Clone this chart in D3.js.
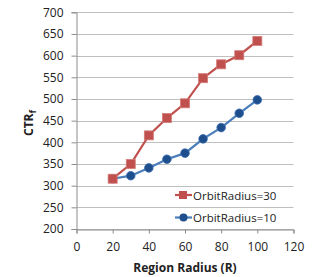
<!DOCTYPE html>
<html>
  <head>
    <meta charset="utf-8">
    <script type="text/javascript" src="https://d3js.org/d3.v7.min.js"></script>
    <style type="text/css">
      body { margin: 0; background: white; }
      text { font-family: "Open Sans", "Liberation Sans", sans-serif; fill: #222; }
    </style>
  </head>
  <body>
    <script type="text/javascript">
    // chart values
    var radius = [20, 30, 40, 50, 60, 70, 80, 90, 100];
    var orbit30 = [316, 350, 416, 456, 490, 548, 580, 601, 634];
    var orbit10 = [316, 323, 341, 361, 375, 408, 434, 467, 498];
    var xTicks = [0, 20, 40, 60, 80, 100, 120];
    var yTicks = [200, 250, 300, 350, 400, 450, 500, 550, 600, 650, 700];
    var seriesNames = ["OrbitRadius=30", "OrbitRadius=10"];

    var width = 332, height = 277;
    var plotLeft = 76.5, plotRight = 293.5, plotTop = 12.3, plotBottom = 229;

    var svg = d3.select("body")
                .append("svg")
                .attr("width", width)
                .attr("height", height);

    var xScale = d3.scaleLinear().domain([0, 120]).range([plotLeft, plotRight]);
    var yScale = d3.scaleLinear().domain([200, 700]).range([plotBottom, plotTop]);

    // gridlines
    svg.append("g")
       .selectAll("line")
       .data(yTicks)
       .enter()
       .append("line")
       .attr("x1", plotLeft)
       .attr("x2", plotRight)
       .attr("y1", function(d){ return Math.round(yScale(d)) + 0.5; })
       .attr("y2", function(d){ return Math.round(yScale(d)) + 0.5; })
       .attr("stroke", "#bfbfbf");

    // y axis
    var yAxis = svg.append("g")
       .attr("transform", "translate(" + plotLeft + ",0)")
       .call(d3.axisLeft(yScale).tickValues(yTicks).tickSize(5).tickPadding(8));
    yAxis.selectAll("text").attr("font-size", "12px").attr("fill", "#222");

    // x axis
    var xAxis = svg.append("g")
       .attr("transform", "translate(0," + (Math.round(plotBottom) + 0.5) + ")")
       .call(d3.axisBottom(xScale).tickValues(xTicks).tickSize(4).tickPadding(9));
    xAxis.selectAll("text").attr("font-size", "12px").attr("fill", "#222");

    svg.selectAll(".domain, .tick line").attr("stroke", "#8c8c8c");
    svg.selectAll("g.tick text").attr("font-family", "'Open Sans', sans-serif");

    // axis titles
    svg.append("text")
       .attr("x", (plotLeft + plotRight) / 2)
       .attr("y", 272)
       .attr("text-anchor", "middle")
       .attr("font-size", "12px")
       .attr("font-weight", "bold")
       .text("Region Radius (R)");

    var yTitle = svg.append("text")
       .attr("transform", "translate(33,123) rotate(-90)")
       .attr("text-anchor", "middle")
       .attr("font-size", "12px")
       .attr("font-weight", "bold");
    yTitle.append("tspan").text("CTR");
    yTitle.append("tspan").attr("font-size", "9px").attr("dy", "3").text("f");

    var line = d3.line()
                 .x(function(d, i){ return xScale(radius[i]); })
                 .y(function(d){ return yScale(d); });

    // blue series
    svg.append("path")
       .datum(orbit10)
       .attr("d", line)
       .attr("fill", "none")
       .attr("stroke", "#4a7ebb")
       .attr("stroke-width", 2.2);
    svg.selectAll("circle.s10")
       .data(orbit10)
       .enter()
       .append("circle")
       .attr("class", "s10")
       .attr("cx", function(d, i){ return xScale(radius[i]); })
       .attr("cy", function(d){ return yScale(d); })
       .attr("r", 4.3)
       .attr("fill", "#1f4e8c")
       .attr("stroke", "#3a6cb0")
       .attr("stroke-width", 0.8);

    // red series
    svg.append("path")
       .datum(orbit30)
       .attr("d", line)
       .attr("fill", "none")
       .attr("stroke", "#c0504d")
       .attr("stroke-width", 2.2);
    svg.selectAll("rect.s30")
       .data(orbit30)
       .enter()
       .append("rect")
       .attr("class", "s30")
       .attr("x", function(d, i){ return xScale(radius[i]) - 4.5; })
       .attr("y", function(d){ return yScale(d) - 4.5; })
       .attr("width", 9)
       .attr("height", 9)
       .attr("fill", "#c0504d")
       .attr("stroke", "#d47b78")
       .attr("stroke-width", 0.8);

    // legend
    var legend = svg.append("g");
    var legY = [195, 217.5];
    legY.forEach(function(y, i){
      legend.append("line")
            .attr("x1", 175).attr("x2", 192)
            .attr("y1", y).attr("y2", y)
            .attr("stroke", i == 0 ? "#c0504d" : "#4a7ebb")
            .attr("stroke-width", 2.2);
      if (i == 0) {
        legend.append("rect")
              .attr("x", 179).attr("y", y - 4)
              .attr("width", 8).attr("height", 8)
              .attr("fill", "#c0504d");
      } else {
        legend.append("circle")
              .attr("cx", 183.5).attr("cy", y)
              .attr("r", 4)
              .attr("fill", "#1f4e8c");
      }
      legend.append("text")
            .attr("x", 193)
            .attr("y", y + 4.5)
            .attr("font-size", "11.5px")
            .text(seriesNames[i]);
    });
    </script>
  </body>
</html>
